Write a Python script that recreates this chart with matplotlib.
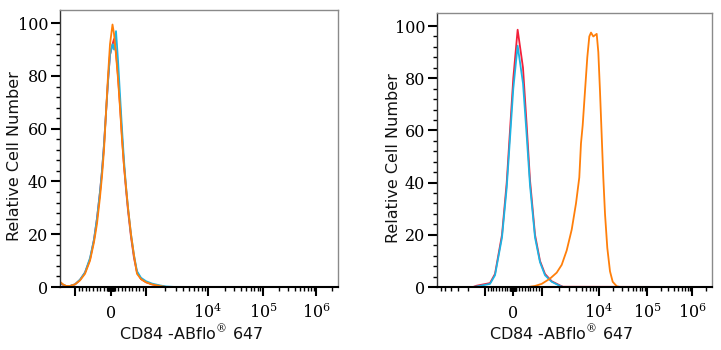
import numpy as np
import matplotlib
matplotlib.use("Agg")
import matplotlib.pyplot as plt
from matplotlib.ticker import FixedLocator, FixedFormatter

# ---------------- data ----------------
# left panel (all three near zero)
left_x = [-1750, -1560, -1400, -1200, -1000, -861, -722, -583, -472, -389, -306, -250,
          -194, -139, -83, -28, 43, 86, 143, 200, 257, 314, 371, 429, 486, 571, 657,
          743, 857, 1000, 1250, 1682, 2100, 3000, 2600000]
left_red = [1.5, 0.8, 0.4, 0.4, 1.0, 2.7, 5.5, 10.5, 18, 26, 36, 44, 54, 66, 78, 88,
            92, 94, 89, 80, 69, 57, 46, 37, 29, 19, 11, 5.5, 3.0, 1.8, 1.0, 0.4, 0.0, 0, 0]
left_cyan = [1.8, 0.9, 0.4, 0.4, 1.0, 2.8, 5.5, 11, 18, 26, 36, 44, 54, 66, 78, 88,
             92, 90, 97, 86, 73, 60, 48, 38, 30, 20, 12, 6.0, 3.5, 2.2, 1.3, 0.6, 0.2, 0, 0]
left_orange = [2.0, 1.0, 0.4, 0.4, 1.0, 2.5, 5.0, 10, 17, 24, 34, 42, 52, 66, 80, 92,
               99.5, 96, 88, 79, 68, 56, 46, 38, 30, 20, 12, 5.0, 3.0, 1.8, 1.0, 0.4, 0.0, 0, 0]

# right panel: isotype / blank (red, cyan)
right_x = [-6950, -1622, -1400, -821, -643, -393, -225, -107, 10, 160, 345, 472, 586,
           759, 931, 1129, 1479, 2069, 2335, 2800000]
right_red = [0, 0, 0.5, 1.5, 5.0, 20, 40, 60, 80, 98.6, 84, 62, 41, 20, 10, 5.0, 2.2, 0.6, 0.1, 0]
right_cyan = [0, 0, 0.2, 1.2, 4.5, 19, 38, 57, 76, 92.5, 78, 58, 39, 19, 9.5, 4.5, 2.0, 0.4, 0, 0]

# right panel: CD84 stained (orange)
orange_x = [-6950, 528, 759, 990, 1380, 1811, 2218, 2712, 3321, 3947, 4512, 4828, 5174,
            5676, 6232, 6758, 7240, 7943, 8506, 9112, 9727, 10490, 11380, 12290, 13340,
            14890, 16950, 19290, 23370, 27400, 2800000]
orange_y = [0, 0, 0.4, 1.2, 3.2, 5.5, 8.5, 14, 22, 32, 42, 55, 62, 75, 88, 96, 97.5, 96,
            96.5, 97, 90, 75, 58, 42, 28, 15, 6, 2, 0.3, 0, 0]

y_ticks = [0, 20, 40, 60, 80, 100]
x_major = [-1000, 0, 1000, 10000, 100000, 1000000]
x_major_labels = ['', '0', '', r'$10^{4}$', r'$10^{5}$', r'$10^{6}$']
xlabel = 'CD84 -ABflo$^{®}$ 647'
ylabel = 'Relative Cell Number'

RED = '#f2203a'
CYAN = '#1db4e4'
ORANGE = '#ff7f0a'

# ---------------- helpers ----------------
def s_of(x):
    x = np.asarray(x, float)
    ax_ = np.maximum(np.abs(x), 1000.0)
    return np.where(np.abs(x) <= 1000, x / 1000.0, np.sign(x) * (1 + np.log10(ax_ / 1000.0)))

def x_of(s):
    s = np.asarray(s, float)
    return np.where(np.abs(s) <= 1, s * 1000.0, np.sign(s) * 1000.0 * 10 ** (np.abs(s) - 1))

S_ANCH = [-3, -2, -1, 0, 1, 2, 3, 4, 5, 6]

def make_funcs(P):
    fwd = lambda x: np.interp(s_of(x), S_ANCH, P)
    inv = lambda p: x_of(np.interp(p, P, S_ANCH))
    return fwd, inv

minor = []
for d in [10, 100, 1000, 10000, 100000, 1000000]:
    for k in range(2 if d >= 1000 else 1, 10):
        minor.append(k * d)
minor = sorted(set([m for m in minor if m not in x_major] +
                   [-m for m in minor if m < 1e4 and -m not in x_major]))

plt.rcParams['mathtext.fontset'] = 'dejavuserif'
plt.rcParams['font.family'] = ['DejaVu Sans']

fig = plt.figure(figsize=(7.21, 3.5), dpi=100)
W, H = 721.0, 350.0

def setup(ax, P, xl, xr):
    fwd, inv = make_funcs(P)
    ax.set_xscale('function', functions=(fwd, inv))
    ax.set_xlim(float(inv(xl)), float(inv(xr)))
    ax.set_ylim(0, 105)
    ax.xaxis.set_major_locator(FixedLocator(x_major))
    ax.xaxis.set_major_formatter(FixedFormatter(x_major_labels))
    ax.xaxis.set_minor_locator(FixedLocator(minor))
    ax.yaxis.set_major_locator(FixedLocator(y_ticks))
    ax.yaxis.set_minor_locator(FixedLocator(list(range(0, 101, 4))))
    ax.tick_params(axis='both', which='major', length=6.5, width=1.5, color='black',
                   labelsize=11.5)
    ax.tick_params(axis='both', which='minor', length=3, width=1.0, color='black')
    ax.tick_params(axis='x', which='major', pad=16)
    ax.tick_params(axis='y', which='major', pad=2)
    for lbl in ax.get_xticklabels() + ax.get_yticklabels():
        lbl.set_fontfamily('DejaVu Serif')
    for lbl in ax.get_xticklabels():
        lbl.set_va('baseline')
    for side in ['top', 'right']:
        ax.spines[side].set_color('#8a8a8a')
        ax.spines[side].set_linewidth(1.0)
    ax.spines['left'].set_color('#333333')
    ax.spines['left'].set_linewidth(1.0)
    ax.spines['bottom'].set_color('black')
    ax.spines['bottom'].set_linewidth(1.5)

ax1 = fig.add_axes([60 / W, (H - 287) / H, 278 / W, 277 / H])
setup(ax1, [-49, 13, 75, 111, 146, 208, 263, 316, 369, 422], 60, 338)
ax1.plot(left_x, left_red, color=RED, lw=1.3)
ax1.plot(left_x, left_cyan, color=CYAN, lw=1.3)
ax1.plot(left_x, left_orange, color=ORANGE, lw=1.3)

ax2 = fig.add_axes([437 / W, (H - 287) / H, 275 / W, 274 / H])
setup(ax2, [371, 428, 485, 513, 542, 599, 647, 692, 737, 782], 437, 712)
ax2.plot(right_x, right_red, color=RED, lw=1.3)
ax2.plot(right_x, right_cyan, color=CYAN, lw=1.3)
ax2.plot(orange_x, orange_y, color=ORANGE, lw=1.3)

lab = dict(fontsize=11.5, color='#111111', family='DejaVu Sans')
fig.text(15 / W, 1 - 156 / H, ylabel, rotation=90, ha='center', va='center', **lab)
fig.text(393 / W, 1 - 158 / H, ylabel, rotation=90, ha='center', va='center', **lab)
fig.text(191 / W, 1 - 333 / H, xlabel, ha='center', va='center', **lab)
fig.text(561.5 / W, 1 - 333 / H, xlabel, ha='center', va='center', **lab)

fig.savefig('out.png', dpi=100)
